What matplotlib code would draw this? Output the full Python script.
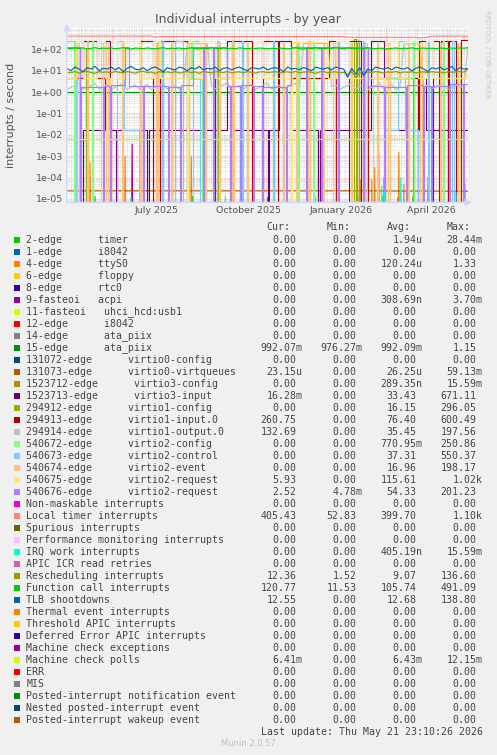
"""Munin style 'Individual interrupts - by year' chart, rebuilt with matplotlib."""
import datetime as dt

import matplotlib

matplotlib.use("Agg")
import matplotlib.dates as mdates
import matplotlib.pyplot as plt
import numpy as np
from matplotlib.patches import FancyArrowPatch, Rectangle

W, H, DPI = 497, 755, 100
START = dt.datetime(2025, 4, 16, 23, 10, 26)
SPAN = 400  # days shown

# ---- legend -------------------------------------------------------------
LABELS = [
    "2-edge      timer", "1-edge      i8042", "4-edge      ttyS0", "6-edge      floppy",
    "8-edge      rtc0", "9-fasteoi   acpi", "11-fasteoi   uhci_hcd:usb1", "12-edge      i8042",
    "14-edge      ata_piix", "15-edge      ata_piix", "131072-edge      virtio0-config",
    "131073-edge      virtio0-virtqueues", "1523712-edge      virtio3-config",
    "1523713-edge      virtio3-input", "294912-edge      virtio1-config",
    "294913-edge      virtio1-input.0", "294914-edge      virtio1-output.0",
    "540672-edge      virtio2-config", "540673-edge      virtio2-control",
    "540674-edge      virtio2-event", "540675-edge      virtio2-request",
    "540676-edge      virtio2-request", "Non-maskable interrupts", "Local timer interrupts",
    "Spurious interrupts", "Performance monitoring interrupts", "IRQ work interrupts",
    "APIC ICR read retries", "Rescheduling interrupts", "Function call interrupts",
    "TLB shootdowns", "Thermal event interrupts", "Threshold APIC interrupts",
    "Deferred Error APIC interrupts", "Machine check exceptions", "Machine check polls",
    "ERR", "MIS", "Posted-interrupt notification event", "Nested posted-interrupt event",
    "Posted-interrupt wakeup event",
]
COLORS = [
    "#00CC00", "#0066B3", "#FF8000", "#FFCC00", "#330099", "#990099", "#CCFF00", "#FF0000",
    "#808080", "#008F00", "#00487D", "#B35A00", "#B38F00", "#6B006B", "#8FB300", "#B30000",
    "#BEBEBE", "#80FF80", "#80C9FF", "#FFC080", "#FFE680", "#AA80FF", "#EE00CC", "#FF8080",
    "#666600", "#FFBFFF", "#00FFCC", "#CC6699", "#999900", "#00CC00", "#0066B3", "#FF8000",
    "#FFCC00", "#330099", "#990099", "#CCFF00", "#FF0000", "#808080", "#008F00", "#00487D",
    "#B35A00",
]
CUR = ["0.00", "0.00", "0.00", "0.00", "0.00", "0.00", "0.00", "0.00", "0.00", "992.07m",
       "0.00", "23.15u", "0.00", "16.28m", "0.00", "260.75", "132.69", "0.00", "0.00", "0.00",
       "5.93", "2.52", "0.00", "405.43", "0.00", "0.00", "0.00", "0.00", "12.36", "120.77",
       "12.55", "0.00", "0.00", "0.00", "0.00", "6.41m", "0.00", "0.00", "0.00", "0.00", "0.00"]
MIN = ["0.00", "0.00", "0.00", "0.00", "0.00", "0.00", "0.00", "0.00", "0.00", "976.27m",
       "0.00", "0.00", "0.00", "0.00", "0.00", "0.00", "0.00", "0.00", "0.00", "0.00",
       "0.00", "4.78m", "0.00", "52.83", "0.00", "0.00", "0.00", "0.00", "1.52", "11.53",
       "0.00", "0.00", "0.00", "0.00", "0.00", "0.00", "0.00", "0.00", "0.00", "0.00", "0.00"]
AVG = ["1.94u", "0.00", "120.24u", "0.00", "0.00", "308.69n", "0.00", "0.00", "0.00", "992.09m",
       "0.00", "26.25u", "289.35n", "33.43", "16.15", "76.40", "35.45", "770.95m", "37.31",
       "16.96", "115.61", "54.33", "0.00", "399.70", "0.00", "0.00", "405.19n", "0.00", "9.07",
       "105.74", "12.68", "0.00", "0.00", "0.00", "0.00", "6.43m", "0.00", "0.00", "0.00",
       "0.00", "0.00"]
MAX = ["28.44m", "0.00", "1.33", "0.00", "0.00", "3.70m", "0.00", "0.00", "0.00", "1.15",
       "0.00", "59.13m", "15.59m", "671.11", "296.05", "600.49", "197.56", "250.86", "550.37",
       "198.17", "1.02k", "201.23", "0.00", "1.10k", "0.00", "0.00", "15.59m", "0.00", "136.60",
       "491.09", "138.80", "0.00", "0.00", "0.00", "0.00", "12.15m", "0.00", "0.00", "0.00",
       "0.00", "0.00"]

# ---- series -------------------------------------------------------------
# evenly sampled series (every 4 days)
local_timer = [418, 416, 419, 415, 417, 418, 414, 416, 419, 417, 415, 418, 416, 417, 414, 419,
               416, 418, 415, 417, 416, 418, 372, 400, 398, 396, 399, 397, 395, 398, 396, 399,
               394, 397, 398, 395, 399, 396, 398, 394, 397, 399, 395, 398, 396, 397, 399, 395,
               398, 396, 394, 399, 397, 395, 398, 396, 399, 397, 394, 398, 396, 399, 395, 397,
               398, 396, 399, 394, 397, 395, 372, 370, 368, 371, 369, 372, 366, 370, 368, 371,
               369, 373, 367, 370, 368, 372, 369, 371, 345, 360, 370, 412, 415, 418, 416, 414,
               417, 415, 418, 416, 405]
func_call = [112, 108, 115, 110, 118, 105, 112, 120, 109, 114, 111, 116, 107, 113, 119, 110,
             104, 115, 112, 108, 117, 111, 106, 114, 120, 109, 113, 110, 116, 107, 112, 118,
             111, 105, 114, 109, 117, 112, 108, 115, 110, 113, 106, 119, 111, 108, 114, 110,
             116, 112, 107, 113, 109, 115, 111, 106, 112, 118, 110, 104, 113, 109, 116, 111,
             107, 114, 110, 119, 112, 108, 115, 111, 106, 113, 109, 117, 112, 108, 114, 110,
             105, 112, 116, 109, 113, 111, 118, 107, 112, 115, 110, 114, 108, 116, 112, 109,
             115, 111, 118, 113, 121]
tlb = [13, 10, 15, 12, 9, 14, 12, 16, 10, 13, 12, 15, 11, 14, 9, 13, 16, 12, 11, 14, 10, 13,
       15, 12, 9, 14, 12, 11, 15, 13, 10, 14, 12, 16, 11, 13, 12, 15, 10, 13, 14, 11, 13, 15,
       12, 10, 14, 13, 12, 15, 11, 13, 14, 12, 9, 15, 12, 13, 11, 14, 12, 10, 15, 13, 12, 14,
       11, 15, 13, 12, 5, 13, 7, 14, 6, 12, 10, 15, 13, 12, 14, 11, 15, 13, 12, 14, 10, 13,
       15, 12, 9, 14, 12, 15, 11, 13, 16, 10, 14, 12, 12.55]
resched = [8.6, 8.1, 9.2, 7.8, 8.9, 9.4, 8.3, 7.6, 9.0, 8.5, 8.8, 7.9, 9.3, 8.4, 8.0, 9.1, 8.6,
           7.7, 8.9, 9.5, 8.2, 8.7, 7.5, 9.0, 8.4, 8.9, 8.1, 9.2, 7.8, 8.6, 9.1, 8.3, 8.8, 7.6,
           9.4, 8.5, 8.0, 9.0, 8.7, 8.2, 9.3, 7.9, 8.6, 8.9, 8.1, 9.2, 8.4, 7.7, 8.8, 9.0, 8.3,
           8.6, 9.1, 7.8, 8.5, 8.9, 8.2, 9.3, 8.0, 8.7, 9.0, 8.4, 7.6, 8.8, 9.2, 8.1, 8.6, 8.9,
           7.9, 8.5, 6.5, 9.0, 5.0, 8.3, 7.0, 8.8, 8.2, 9.1, 8.6, 7.8, 8.9, 8.4, 9.2, 8.0, 8.7,
           8.5, 9.0, 7.9, 8.6, 8.8, 8.2, 9.1, 8.4, 8.7, 7.9, 9.0, 8.5, 8.8, 9.2, 8.6, 12.36]
virtio1_output = [1.3, 1.7, 2.1, 2.5, 1.3, 1.7, 2.1, 2.5, 1.4, 1.8, 2.2, 1.3, 1.7, 2.1, 2.5,
                  1.3, 1.7, 2.2, 1.4, 1.8, 2.3, 1.3, 1.7, 2.1, 2.5, 1.4, 1.8, 2.2, 1.3, 1.7,
                  180, 185, 178, 182, 186, 180, 2.1, 1.4, 1.8, 2.2, 2.6, 1.3, 1.7, 2.1, 1.4,
                  1.8, 2.3, 1.3, 1.7, 2.2, 2.5, 1.4, 1.8, 2.1, 1.3, 1.7, 2.2, 2.5, 1.4, 185,
                  190, 183, 188, 186, 192, 184, 1.8, 2.2, 1.3, 1.7, 2.1, 2.5, 1.4, 1.8, 2.2,
                  1.3, 1.7, 2.1, 2.5, 1.4, 1.8, 2.3, 1.3, 1.7, 175, 182, 178, 185, 180, 1.8,
                  2.2, 1.4, 1.8, 2.1, 2.5, 1.3, 1.7, 2.2, 1.6, 2.0, 132.69]
ata_piix15 = [0.99, 0.99, 0.99, 0.99, 0.99]
mc_polls = [0.0064, 0.0064, 0.0064, 0.0064, 0.0064]
virtio0_vq = [2.4e-5, 2.4e-5, 2.4e-5, 2.4e-5, 2.3e-5]

# stepped series: value holds from each day until the next one
vin_days = [0, 16, 30, 43, 73, 86, 93, 120, 148, 165, 185, 196, 210, 223, 261, 268, 281,
            293, 300, 310, 350, 365, 371, 373, 380, 381, 388, 393]
vin_vals = [4.5, 250, 4.6, 0, 250, 0, 250, 0, 4.5, 250, 0, 250, 0, 4.7, 250, 0, 250, 0,
            4.5, 4.8, 0, 250, 0, 250, 0, 250, 0, 260.75]
vi3_days = [0, 16, 38, 43, 49, 50, 80, 82, 160, 166, 200, 201, 211, 223, 250, 252, 303,
            316, 351, 358, 396]
vi3_vals = [0, 0.017, 250, 0.017, 0, 0.017, 0, 0.017, 250, 0.017, 0, 0.017, 250, 0.017, 0,
            0.017, 250, 0.017, 250, 0.017, 0.0163]
ctl_days = [0, 9, 20, 21, 50, 57, 72, 95, 96, 108, 116, 126, 133, 150, 152, 175, 176, 205,
            206, 240, 242, 270, 271, 295, 296, 316, 330, 337, 350, 360, 361, 384, 386]
ctl_vals = [250, 0, 250, 0, 250, 0.017, 0, 250, 0, 250, 0, 250, 0, 250, 0, 250, 0, 250, 0,
            250, 0, 250, 0, 250, 0, 0.017, 250, 0.017, 0, 250, 0, 250, 0]
req5_days = [0, 9, 16, 30, 38, 43, 44, 50, 57, 73, 86, 93, 120, 121, 126, 133, 148, 190, 196,
             223, 224, 260, 268, 281, 316, 317, 330, 337, 350, 358, 365, 398]
req5_vals = [4.5, 250, 4.5, 250, 4.5, 0, 250, 4.5, 250, 4.5, 250, 4.5, 0, 250, 4.5, 250, 4.5,
             250, 4.5, 0, 230, 4.5, 250, 4.5, 0, 250, 4.5, 250, 4.5, 250, 4.5, 5.93]
req6_days = [0, 13, 14, 36, 37, 43, 44, 58, 62, 76, 77, 101, 102, 113, 114, 126, 136, 137,
             146, 147, 160, 163, 164, 173, 174, 186, 187, 195, 196, 218, 219, 223, 238, 239,
             253, 254, 270, 271, 295, 296, 300, 316, 317, 338, 339, 355, 356, 363, 364, 381,
             382, 395, 396]
req6_vals = [130, 0, 1.8, 0, 2.0, 0, 2.2, 130, 1.9, 0, 2.0, 0, 1.8, 0, 2.1, 130, 0, 130, 0,
             130, 2.0, 0, 1.9, 0, 2.2, 0, 2.0, 0, 1.8, 0, 2.1, 130, 0, 130, 0, 130, 0, 130, 0,
             130, 2.0, 0, 1.8, 0, 2.2, 0, 2.0, 0, 1.9, 0, 2.3, 0, 2.52]
cfg2_days = [0, 7, 8, 25, 26, 90, 91, 120, 124, 125, 135, 165, 166, 230, 231, 245, 246, 305,
             330, 331, 345, 346, 375, 376]
cfg2_vals = [0, 250, 0, 250, 0, 250, 0, 4.2, 250, 4.2, 0, 250, 0, 250, 0, 250, 0, 4.5, 250,
             4.5, 250, 0, 250, 0]
event_days = [0, 10, 12, 20, 21, 34, 36, 39, 41, 55, 56, 73, 74, 89, 91, 104, 105, 120, 122,
              138, 139, 152, 153, 165, 167, 180, 181, 215, 216, 228, 229, 240, 242, 255, 256,
              265, 267, 283, 284, 297, 299, 309, 310, 320, 322, 340, 341, 352, 354, 372, 373,
              390, 392]
event_vals = [0, 198, 0, 198, 0, 198, 0, 198, 0, 198, 0, 198, 0, 198, 0, 198, 0, 198, 0,
              198, 0, 198, 0, 198, 0, 198, 0, 198, 0, 198, 0, 198, 0, 198, 0, 198, 0, 198,
              0, 198, 0, 198, 0, 198, 0, 198, 0, 198, 0, 198, 0, 198, 0]
cfg1_days = [0, 19, 20, 95, 96, 150, 151, 205, 206, 286, 288, 289, 291, 345, 346]
cfg1_vals = [0, 120, 0, 150, 0, 100, 0, 130, 0, 296, 0, 200, 0, 110, 0]

# single-sample spikes near the floor
tty_days = [10, 23, 58, 124, 231, 293, 297, 300, 304, 307, 311, 316, 331, 336, 346, 360, 393,
            397]
tty_vals = [1e-3, 5e-4, 1e-3, 1e-3, 5e-4, 8e-5, 1e-4, 2e-4, 8e-5, 3e-4, 1.5e-3, 1e-4,
            1.5e-3, 5e-5, 1.5e-3, 1e-4, 1.5e-3, 5e-5]
timer_days = [9, 28, 64, 125, 200, 230, 290, 315, 330, 345, 360]
timer_vals = [1.3e-5, 1.3e-5, 1.2e-5, 1.3e-5, 1.2e-5, 1.3e-5, 1.4e-5, 1.3e-5, 1.2e-5, 1.3e-5,
              1.3e-5]
acpi_days = [65]
acpi_vals = [3.7e-3]
irqwork_days = [64, 158, 248, 314, 317, 333, 388]
irqwork_vals = [1.2e-5, 1.5e-5, 1.2e-5, 4e-5, 2e-5, 1e-4, 2e-5]

FLOOR = 1e-9


def even(vals):
    return np.linspace(0, SPAN, len(vals)), np.asarray(vals, float)


def stepped(days, vals):
    return np.asarray(days + [SPAN], float), np.asarray(vals + [vals[-1]], float)


def spikes(days, vals):
    x = np.arange(SPAN + 1, dtype=float)
    y = np.zeros_like(x)
    y[days] = vals
    return x, y


# (legend index, x, y, drawstyle) in munin drawing order
series = [
    (0, *spikes(timer_days, timer_vals), "default"),
    (2, *spikes(tty_days, tty_vals), "default"),
    (5, *spikes(acpi_days, acpi_vals), "default"),
    (9, *even(ata_piix15), "default"),
    (11, *even(virtio0_vq), "default"),
    (13, *stepped(vi3_days, vi3_vals), "steps-post"),
    (14, *stepped(cfg1_days, cfg1_vals), "steps-post"),
    (15, *stepped(vin_days, vin_vals), "steps-post"),
    (16, *even(virtio1_output), "default"),
    (17, *stepped(cfg2_days, cfg2_vals), "steps-post"),
    (18, *stepped(ctl_days, ctl_vals), "steps-post"),
    (19, *stepped(event_days, event_vals), "steps-post"),
    (20, *stepped(req5_days, req5_vals), "steps-post"),
    (21, *stepped(req6_days, req6_vals), "steps-post"),
    (23, *even(local_timer), "default"),
    (26, *spikes(irqwork_days, irqwork_vals), "default"),
    (28, *even(resched), "default"),
    (29, *even(func_call), "default"),
    (30, *even(tlb), "default"),
    (35, *even(mc_polls), "default"),
]


def fx(px):
    return px / W


def fy(py):
    return 1 - py / H


fig = plt.figure(figsize=(W / DPI, H / DPI), dpi=DPI, facecolor="#F0F0F0")
L, R, T, B = 67, 468, 28, 202.3
ax = fig.add_axes([fx(L), fy(B), fx(R) - fx(L), fy(T) - fy(B)])
ax.set_facecolor("white")

x0 = mdates.date2num(START)
ax.set_yscale("log")
ax.set_ylim(7e-6, 1e3)
ax.set_xlim(x0, x0 + SPAN)

# grid: grey dotted minor, pink dotted major
dot = (0, (1, 1))
for e in range(-6, 3):
    for k in range(2, 10):
        ax.axhline(k * 10.0 ** e, color="#D4D4D4", lw=0.6, ls=dot, zorder=0)
    ax.axhline(10.0 ** e, color="#F2A0A0", lw=0.6, ls=dot, zorder=0.5)
d = START.date() + dt.timedelta(days=1)
while d < (START + dt.timedelta(days=SPAN)).date():
    if d.weekday() == 0:
        ax.axvline(mdates.date2num(d), color="#D8D8D8", lw=0.6, ls=dot, zorder=0)
    if d.day == 1:
        ax.axvline(mdates.date2num(d), color="#F4B4B4", lw=0.6, ls=dot, zorder=0.5)
    d += dt.timedelta(days=1)

for idx, x, y, style in series:
    y = np.where(y > 0, y, FLOOR)
    ax.plot(x0 + x, y, color=COLORS[idx], lw=0.85, drawstyle=style, zorder=2)

ax.set_yticks([10.0 ** e for e in range(-5, 3)])
ax.set_yticklabels([f"1e{e:+03d}" for e in range(-5, 3)])
ax.yaxis.set_minor_locator(matplotlib.ticker.NullLocator())
xt = [dt.datetime(2025, 7, 15), dt.datetime(2025, 10, 15), dt.datetime(2026, 1, 15),
      dt.datetime(2026, 4, 15)]
ax.set_xticks([mdates.date2num(t) for t in xt])
ax.set_xticklabels(["July 2025", "October 2025", "January 2026", "April 2026"])
ax.tick_params(length=0, labelsize=6.8, labelcolor="#555555", pad=3)
for s in ax.spines.values():
    s.set_visible(False)

# axes with arrows
arrow = dict(arrowstyle="-|>,head_length=0.5,head_width=0.25", color="#CFD6F8", lw=1)
fig.add_artist(FancyArrowPatch((fx(L - 2), fy(B)), (fx(R + 7), fy(B)),
                               transform=fig.transFigure, mutation_scale=8, **arrow))
fig.add_artist(FancyArrowPatch((fx(L), fy(B + 3)), (fx(L), fy(T - 7)),
                               transform=fig.transFigure, mutation_scale=8, **arrow))

fig.text(fx(248), fy(19), "Individual interrupts - by year", ha="center", va="center",
         fontsize=9, color="#555555")
fig.text(fx(11), fy(115), "interrupts / second", rotation=90, ha="center", va="center",
         fontsize=8, color="#555555")
fig.text(fx(487), fy(54), "RRDTOOL / TOBI OETIKER", rotation=270, ha="center", va="center",
         fontsize=5, color="#C8C8C8")

# legend block
mono = dict(family="DejaVu Sans Mono", fontsize=7.1, color="#444444", va="center")
cw = 5.96
col_end = [302.3, 362.7, 422.7, 482.7]
for name, ce in zip(["Cur:", "Min:", "Avg:", "Max:"], col_end):
    fig.text(fx(ce - 2 * cw), fy(227.3), name, ha="right", **mono)
for i, label in enumerate(LABELS):
    yy = 239.7 + 12 * i
    fig.add_artist(Rectangle((fx(14), fy(yy + 3)), fx(6), 6 / H, transform=fig.transFigure,
                             facecolor=COLORS[i], edgecolor="none"))
    fig.text(fx(26.3), fy(yy), label, ha="left", **mono)
    for val, ce in zip([CUR[i], MIN[i], AVG[i], MAX[i]], col_end):
        right = ce if val[-1].isalpha() else ce - cw
        fig.text(fx(right), fy(yy), val, ha="right", **mono)
fig.text(fx(482.7), fy(731.7), "Last update: Thu May 21 23:10:26 2026", ha="right", **mono)
fig.text(fx(248), fy(743.7), "Munin 2.0.57", ha="center", va="center", fontsize=6,
         color="#C0C0C0")

fig.savefig("out.png", dpi=DPI, facecolor=fig.get_facecolor())
